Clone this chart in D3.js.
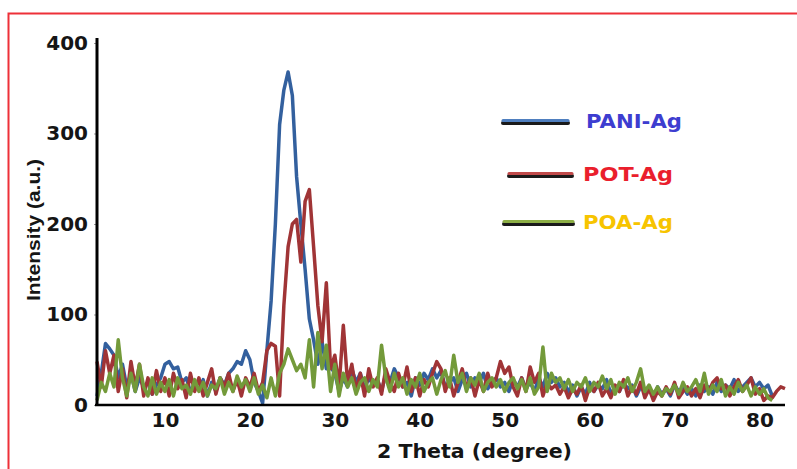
<!DOCTYPE html>
<html>
<head>
<meta charset="utf-8">
<script src="https://cdn.jsdelivr.net/npm/d3@7"></script>
<style>
  body { margin: 0; background: #fff; }
  svg { display: block; }
</style>
</head>
<body>
<svg id="chart" width="797" height="469"></svg>
<script>
// 2-theta sampling grid: 2.0 .. 83.0 degrees, 0.5 degree step
const twoTheta = d3.range(2, 83.001, 0.5);

const xTicks = [10, 20, 30, 40, 50, 60, 70, 80];
const yTicks = [0, 100, 200, 300, 400];

// intensities (a.u.), one row per 5 degrees
const paniAg = [
  10, 35, 68, 62, 55, 30, 45, 20, 35, 15,
  30, 20, 25, 12, 22, 30, 45, 48, 40, 42,
  25, 30, 15, 22, 18, 28, 10, 25, 15, 30,
  22, 35, 40, 48, 45, 60, 50, 25, 15, 2,
  60, 115, 200, 310, 348, 368, 342, 252, 200, 150,
  95, 72, 45, 70, 40, 42, 35, 15, 30, 20,
  40, 25, 35, 18, 30, 22, 28, 15, 35, 25,
  40, 30, 20, 25, 10, 30, 22, 35, 28, 40,
  30, 38, 20, 25, 30, 15, 28, 35, 20, 30,
  25, 35, 18, 25, 30, 20, 25, 15, 28, 20,
  30, 18, 25, 15, 30, 20, 35, 25, 30, 20,
  25, 15, 22, 10, 20, 12, 25, 15, 22, 18,
  28, 12, 20, 15, 25, 18, 22, 10, 20, 15,
  18, 8, 20, 12, 18, 10, 22, 15, 20, 12,
  18, 10, 22, 15, 20, 12, 25, 15, 22, 18,
  28, 15, 20, 25, 30, 20, 25, 18, 22, 10,
  null, null, null
];

const potAg = [
  48, 20, 60, 35, 55, 15, 40, 8, 48, 20,
  45, 10, 30, 12, 38, 15, 30, 10, 35, 18,
  28, 8, 35, 15, 30, 10, 25, 40, 12, 30,
  20, 35, 15, 28, 10, 30, 20, 35, 15, 25,
  60, 68, 65, 10, 110, 175, 200, 205, 158, 225,
  238, 175, 110, 70, 135, 40, 55, 20, 88, 25,
  45, 15, 35, 10, 40, 20, 30, 12, 40, 25,
  15, 35, 20, 42, 15, 30, 10, 28, 20, 35,
  48, 40, 15, 30, 10, 25, 40, 18, 30, 10,
  28, 15, 35, 20, 30, 48, 35, 42, 20, 10,
  30, 15, 42, 25, 35, 10, 25, 18, 22, 12,
  20, 8, 18, 12, 22, 5, 20, 15, 25, 10,
  18, 8, 22, 15, 28, 10, 20, 12, 25, 8,
  18, 5, 15, 10, 20, 12, 25, 8, 15, 20,
  10, 18, 8, 22, 15, 25, 30, 18, 22, 10,
  20, 28, 15, 22, 30, 12, 18, 5, 10, 8,
  15, 20, 18
];

const poaAg = [
  5, 25, 15, 35, 20, 72, 30, 10, 35, 15,
  45, 20, 10, 30, 12, 25, 15, 28, 10, 30,
  18, 22, 12, 28, 15, 25, 10, 22, 18, 30,
  12, 25, 15, 32, 20, 28, 15, 30, 12, 22,
  8, 30, 10, 35, 45, 62, 50, 38, 45, 30,
  72, 20, 80, 40, 66, 15, 45, 10, 35, 20,
  30, 12, 25, 30, 15, 28, 20, 66, 30, 15,
  35, 20, 30, 12, 28, 20, 35, 15, 25, 30,
  12, 28, 38, 20, 55, 25, 35, 15, 30, 22,
  35, 15, 25, 30, 20, 28, 15, 25, 30, 18,
  28, 15, 30, 12, 20, 64, 15, 35, 25, 30,
  18, 28, 15, 25, 20, 30, 15, 25, 20, 32,
  18, 28, 12, 25, 20, 30, 15, 25, 40, 15,
  22, 12, 20, 10, 18, 15, 22, 12, 25, 15,
  20, 28, 15, 35, 12, 22, 15, 28, 10, 20,
  12, 25, 15, 22, 10, 20, 12, 18, 8, 5,
  null, null, null
];

const seriesNames = ["PANI-Ag", "POT-Ag", "POA-Ag"];
const lineColors = ["#33609e", "#a03436", "#739a3a"];
const legendLineColors = ["#4f7fbf", "#c04a4a", "#8cae45"];
const legendTextColors = ["#3d3dd0", "#ea1f2d", "#f7c400"];

const svg = d3.select("#chart");

// red frame around the figure
svg.append("rect")
  .attr("x", 8.5)
  .attr("y", 13.5)
  .attr("width", 820)
  .attr("height", 480)
  .attr("fill", "none")
  .attr("stroke", "#ee3038")
  .attr("stroke-width", 2);

const x = d3.scaleLinear().domain([2, 83]).range([97, 785]);
const y = d3.scaleLinear().domain([0, 400]).range([405, 43]);

const line = d3
  .line()
  .defined((d) => d[1] !== null)
  .x((d) => x(d[0]))
  .y((d) => y(d[1]));

// draw series (green last, it sits on top)
[paniAg, potAg, poaAg].forEach((values, i) => {
  const pts = twoTheta.map((t, j) => [t, values[j] ?? null]);
  svg.append("path")
    .datum(pts)
    .attr("fill", "none")
    .attr("stroke", lineColors[i])
    .attr("stroke-width", 3.5)
    .attr("stroke-linejoin", "round")
    .attr("d", line);
});

// y axis
const yAxis = svg.append("g")
  .attr("transform", "translate(97,0)")
  .call(d3.axisLeft(y).tickValues(yTicks).tickSize(3).tickSizeOuter(0).tickPadding(6));
yAxis.select(".domain").remove();
yAxis.selectAll(".tick line").attr("stroke", "#999");
yAxis.selectAll("text")
  .attr("font-family", "DejaVu Sans")
  .attr("font-weight", "bold")
  .attr("font-size", 20)
  .attr("fill", "#151515");
svg.append("line")
  .attr("x1", 97).attr("x2", 97)
  .attr("y1", 38).attr("y2", 406)
  .attr("stroke", "#000")
  .attr("stroke-width", 3);

// x axis
const xAxis = svg.append("g")
  .attr("transform", "translate(0,405)")
  .call(d3.axisBottom(x).tickValues(xTicks).tickSize(0).tickPadding(8));
xAxis.select(".domain").remove();
xAxis.selectAll("text")
  .attr("font-family", "DejaVu Sans")
  .attr("font-weight", "bold")
  .attr("font-size", 20)
  .attr("fill", "#151515");
svg.append("line")
  .attr("x1", 95).attr("x2", 785)
  .attr("y1", 405).attr("y2", 405)
  .attr("stroke", "#000")
  .attr("stroke-width", 2.5);

// axis titles
svg.append("text")
  .attr("transform", "translate(40,230) rotate(-90)")
  .attr("text-anchor", "middle")
  .attr("font-family", "Liberation Sans")
  .attr("font-weight", "bold")
  .attr("font-size", 18)
  .attr("textLength", 142)
  .attr("lengthAdjust", "spacingAndGlyphs")
  .attr("fill", "#151515")
  .text("Intensity (a.u.)");

svg.append("text")
  .attr("x", 377)
  .attr("y", 458)
  .attr("font-family", "DejaVu Sans")
  .attr("font-weight", "bold")
  .attr("font-size", 20)
  .attr("textLength", 195)
  .attr("lengthAdjust", "spacingAndGlyphs")
  .attr("fill", "#151515")
  .text("2 Theta (degree)");

// legend
const legendRows = [
  { ly: 121, x1: 503, x2: 568, tx: 586, tw: 96 },
  { ly: 174, x1: 509, x2: 572, tx: 583, tw: 90 },
  { ly: 222, x1: 504, x2: 573, tx: 583, tw: 90 },
];
legendRows.forEach((r, i) => {
  svg.append("line")
    .attr("x1", r.x1).attr("x2", r.x2)
    .attr("y1", r.ly + 2).attr("y2", r.ly + 2)
    .attr("stroke", "#1a1a1a")
    .attr("stroke-width", 4)
    .attr("stroke-linecap", "round");
  svg.append("line")
    .attr("x1", r.x1).attr("x2", r.x2)
    .attr("y1", r.ly - 0.5).attr("y2", r.ly - 0.5)
    .attr("stroke", legendLineColors[i])
    .attr("stroke-width", 3)
    .attr("stroke-linecap", "round");
  svg.append("text")
    .attr("x", r.tx)
    .attr("y", r.ly + 7)
    .attr("font-family", "DejaVu Sans")
    .attr("font-weight", "bold")
    .attr("font-size", 19)
    .attr("textLength", r.tw)
    .attr("lengthAdjust", "spacingAndGlyphs")
    .attr("fill", legendTextColors[i])
    .text(seriesNames[i]);
});
</script>
</body>
</html>
